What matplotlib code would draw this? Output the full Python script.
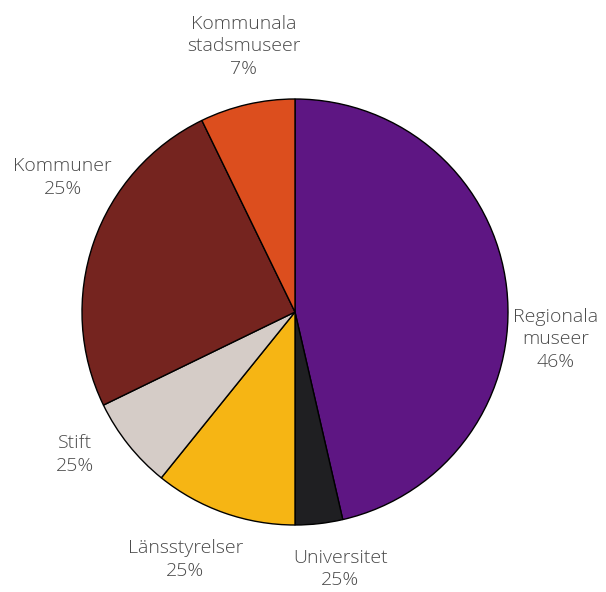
import numpy as np
import matplotlib.pyplot as plt

# data, clockwise from the top
labels = ['Regionala\nmuseer\n46%', 'Universitet\n25%', 'Länsstyrelser\n25%',
          'Stift\n25%', 'Kommuner\n25%', 'Kommunala\nstadsmuseer\n7%']
values = [46.4, 3.6, 10.8, 7.0, 25.0, 7.2]
colors = ['#5E1683', '#1F1F22', '#F6B514', '#D5CCC7', '#75241F', '#DC4E1E']

# label offsets (radius, angle shift in degrees) to sit like the original
label_r = [1.23, 1.225, 1.27, 1.23, 1.26, 1.27]
label_shift = [-12.5, 3.5, -4.5, -5.5, -11.0, -2.0]

plt.rcParams['font.family'] = ['Open Sans', 'DejaVu Sans']

fig = plt.figure(figsize=(6.06, 5.92), dpi=100)
R = 213.0
half = 1.4
W, H = 606.0, 592.0
cx, cy = 295.0, H - 312.0
ax = fig.add_axes([(cx - half * R) / W, (cy - half * R) / H,
                   2 * half * R / W, 2 * half * R / H])

wedges, texts = ax.pie(values, colors=colors, startangle=90, counterclock=False,
                       labels=labels, labeldistance=1.25,
                       wedgeprops=dict(edgecolor='black', linewidth=1.0),
                       textprops=dict(fontsize=14, color='#4a4a4a', fontweight='light',
                                      ha='center', va='center', multialignment='center'))

for w, t, r, s in zip(wedges, texts, label_r, label_shift):
    mid = np.deg2rad((w.theta1 + w.theta2) / 2 + s)
    t.set_position((r * np.cos(mid), r * np.sin(mid)))
    t.set_ha('center')
    t.set_va('center')
    t.set_linespacing(1.35)

ax.set_xlim(-half, half)
ax.set_ylim(-half, half)
ax.set_aspect('equal')
ax.axis('off')

plt.savefig('out.png', dpi=100)
